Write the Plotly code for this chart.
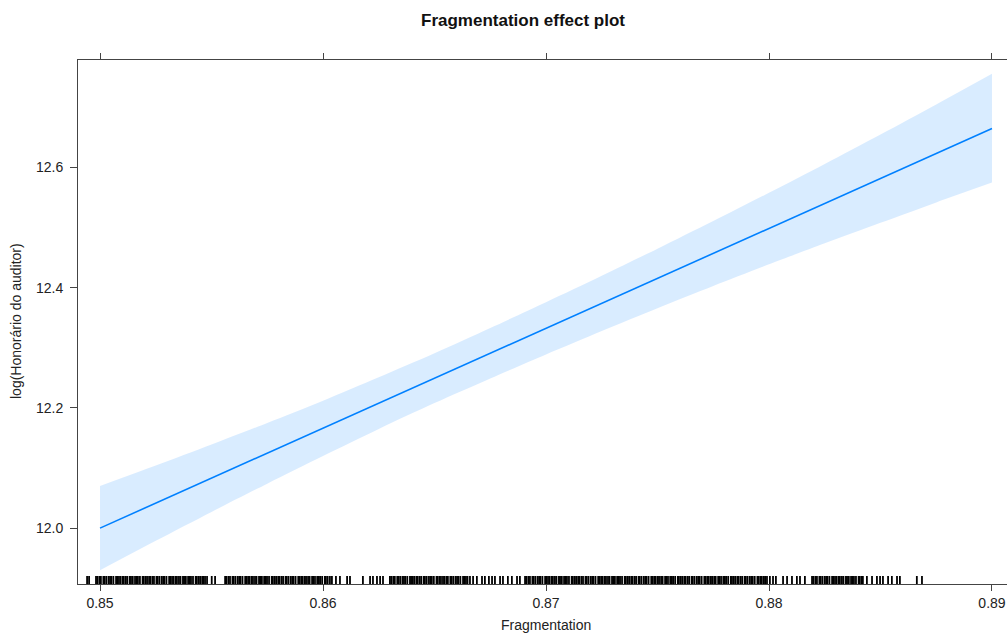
import numpy as np
import plotly.graph_objects as go

# Effect of Fragmentation on log audit fee (fit and 95% band)
frag_grid = [0.85, 0.8525, 0.855, 0.8575, 0.86, 0.8625, 0.865, 0.8675, 0.87,
             0.8725, 0.875, 0.8775, 0.88, 0.8825, 0.885, 0.8875, 0.89]
fit = [12.000, 12.0416, 12.083, 12.1247, 12.166, 12.2078, 12.249, 12.2909, 12.3325,
       12.3741, 12.416, 12.4572, 12.499, 12.5403, 12.582, 12.6234, 12.665]
lower = [11.930, 11.979, 12.027, 12.074, 12.120, 12.165, 12.208, 12.249, 12.289,
         12.328, 12.366, 12.403, 12.439, 12.474, 12.508, 12.542, 12.575]
upper = [12.070, 12.104, 12.139, 12.175, 12.212, 12.251, 12.291, 12.333, 12.376,
         12.420, 12.465, 12.511, 12.558, 12.606, 12.655, 12.705, 12.756]

# Observed Fragmentation values (rug), in units of 1e-5
rug_e5 = [
    84942, 84951,
    84982, 84988, 84997, 85004, 85015, 85020, 85028, 85038, 85045, 85051, 85060, 85072, 85077, 85085,
    85092, 85101, 85107, 85116, 85123, 85134, 85139, 85147, 85157, 85164, 85170, 85179, 85191, 85196,
    85204, 85211, 85220, 85226, 85235, 85242, 85253, 85258, 85266, 85276, 85283, 85289, 85298, 85310,
    85315, 85323, 85330, 85339, 85345, 85354, 85361, 85372, 85377, 85385, 85395, 85402, 85408, 85417,
    85429, 85434, 85442, 85449, 85458, 85464, 85471,
    85480, 85501, 85516,
    85561, 85567, 85576, 85583, 85594, 85599, 85607, 85617, 85624, 85630, 85639, 85651, 85656, 85664,
    85671, 85680, 85686, 85695, 85702, 85713, 85718, 85726, 85736, 85743, 85749, 85758, 85770, 85775,
    85783, 85790, 85799, 85805, 85814, 85821, 85832, 85837, 85845, 85855, 85862, 85868, 85877, 85889,
    85894, 85902, 85909, 85918, 85924, 85933, 85940, 85951, 85956, 85964, 85974, 85981, 85987, 85996,
    86008, 86013, 86021, 86031,
    86040, 86058, 86076, 86108, 86121, 86179, 86211, 86224, 86242, 86256, 86269,
    86300, 86306, 86315, 86322, 86333, 86338, 86346, 86356, 86363, 86369, 86378, 86390, 86395, 86403,
    86410, 86419, 86425, 86434, 86441, 86452, 86457, 86465, 86475, 86482, 86488, 86497, 86509, 86514,
    86522, 86529, 86538, 86544, 86553, 86560, 86571, 86576, 86584, 86594, 86601, 86607, 86616, 86628,
    86633, 86641, 86648, 86659,
    86673, 86690, 86713, 86726, 86744, 86758, 86771, 86794, 86807, 86829, 86847, 86870, 86883,
    86906, 86912, 86921, 86928, 86939, 86944, 86952, 86962, 86969, 86975, 86984, 86996, 87001, 87009,
    87016, 87025, 87031, 87040, 87047, 87058, 87063, 87071, 87081, 87088, 87094, 87103, 87115, 87120,
    87128, 87135, 87144, 87150, 87159, 87166, 87177, 87182, 87190, 87200, 87207, 87213, 87222, 87234,
    87239, 87247, 87254, 87263, 87269, 87278, 87285, 87296, 87301, 87309, 87319, 87326, 87332, 87341,
    87353, 87358, 87366, 87373, 87382, 87388, 87397, 87404, 87415, 87420, 87428, 87438, 87445, 87451,
    87460, 87472, 87477, 87485, 87492, 87501, 87507, 87516, 87523, 87534, 87539, 87547, 87557, 87564,
    87570, 87579, 87591, 87596, 87604, 87611, 87620, 87626, 87635, 87642, 87653, 87658, 87666, 87676,
    87683, 87689, 87698, 87710, 87715, 87723, 87730, 87739, 87745, 87754, 87761, 87772, 87777, 87785,
    87795, 87802, 87808, 87817, 87829, 87834, 87842, 87849, 87858, 87864, 87873, 87880, 87891, 87896,
    87904, 87914, 87921, 87927, 87936, 87948, 87953, 87961, 87968, 87977, 87983, 87991,
    88004, 88018, 88031, 88063, 88081, 88103, 88125, 88139, 88161,
    88193, 88199, 88208, 88215, 88226, 88231, 88239, 88249, 88256, 88262, 88271, 88283, 88288, 88296,
    88303, 88312, 88318, 88327, 88334, 88345, 88350, 88358, 88368, 88375, 88381, 88390, 88402, 88407,
    88415, 88421,
    88439, 88462, 88484, 88498, 88511, 88534, 88551, 88574, 88587, 88663, 88686,
]

x_ticks = [0.85, 0.86, 0.87, 0.88, 0.89]
y_ticks = [12.0, 12.2, 12.4, 12.6]

X_RANGE = [0.849013, 0.890673]
Y_RANGE = [11.907, 12.779]
FONT = "Liberation Sans, Arial, Helvetica, sans-serif"
AXIS_COL = "#444444"
LINE_COL = "#0080FF"
BAND_COL = "rgba(0,128,255,0.15)"

# plot-area geometry in pixels, used to place the free text
L, T, B, W, H = 78, 60, 49, 929, 524

fig = go.Figure()

# confidence band: lower edge, then upper edge filled down to it
fig.add_trace(go.Scatter(
    x=frag_grid, y=lower, mode="lines",
    line=dict(width=0, shape="spline", smoothing=0.8),
    hoverinfo="skip", showlegend=False,
))
fig.add_trace(go.Scatter(
    x=frag_grid, y=upper, mode="lines", fill="tonexty", fillcolor=BAND_COL,
    line=dict(width=0, shape="spline", smoothing=0.8),
    hoverinfo="skip", showlegend=False,
))

# fitted effect
fig.add_trace(go.Scatter(
    x=frag_grid, y=fit, mode="lines",
    line=dict(color=LINE_COL, width=1.6), showlegend=False,
))

# rug of observed values
frag_obs = np.array(rug_e5) / 1e5
rug_h = 8 / 601.5
rx, ry = [], []
for v in frag_obs:
    rx += [v, v, None]
    ry += [Y_RANGE[0], Y_RANGE[0] + rug_h, None]
fig.add_trace(go.Scatter(
    x=rx, y=ry, mode="lines", line=dict(color="black", width=1.8),
    hoverinfo="skip", showlegend=False,
))

# invisible trace so the top axis is drawn
fig.add_trace(go.Scatter(x=[0.87], y=[12.3], xaxis="x2", mode="markers",
                         marker=dict(opacity=0), showlegend=False, hoverinfo="skip"))

fig.update_layout(
    width=1007, height=633,
    margin=dict(l=L, r=0, t=T, b=B),
    paper_bgcolor="white", plot_bgcolor="white",
    font=dict(family=FONT, size=14, color="#222222"),
    xaxis=dict(
        range=X_RANGE, tickvals=x_ticks, ticktext=[f"{v:.2f}" for v in x_ticks],
        showgrid=False, zeroline=False, showline=True, linecolor=AXIS_COL, linewidth=1,
        ticks="outside", ticklen=6, tickcolor=AXIS_COL, tickfont=dict(size=14, color="#222222"),
    ),
    xaxis2=dict(
        range=X_RANGE, overlaying="x", side="top", anchor="y", tickvals=x_ticks,
        showticklabels=False, showgrid=False, zeroline=False, showline=True,
        linecolor=AXIS_COL, linewidth=1, ticks="outside", ticklen=6, tickcolor=AXIS_COL,
    ),
    yaxis=dict(
        range=Y_RANGE, tickvals=y_ticks, ticktext=[f"{v:.1f}" for v in y_ticks],
        showgrid=False, zeroline=False, showline=True, linecolor=AXIS_COL, linewidth=1,
        ticks="outside", ticklen=7, tickcolor=AXIS_COL, tickfont=dict(size=14, color="#222222"),
        ticklabelstandoff=4,
    ),
    annotations=[
        dict(text="<b>Fragmentation effect plot</b>", x=(523 - L) / W, y=1 + (T - 20) / H,
             xref="paper", yref="paper", xanchor="center", yanchor="middle",
             showarrow=False, font=dict(size=17, color="#111111")),
        dict(text="Fragmentation", x=(546 - L) / W, y=-(625 - (T + H)) / H,
             xref="paper", yref="paper", xanchor="center", yanchor="middle",
             showarrow=False, font=dict(size=14, color="#222222")),
        dict(text="log(Honorário do auditor)", x=-(L - 16) / W, y=(T + H - 321) / H,
             xref="paper", yref="paper", xanchor="center", yanchor="middle", textangle=-90,
             showarrow=False, font=dict(size=14, color="#222222")),
    ],
)

fig.write_html("out.html")
